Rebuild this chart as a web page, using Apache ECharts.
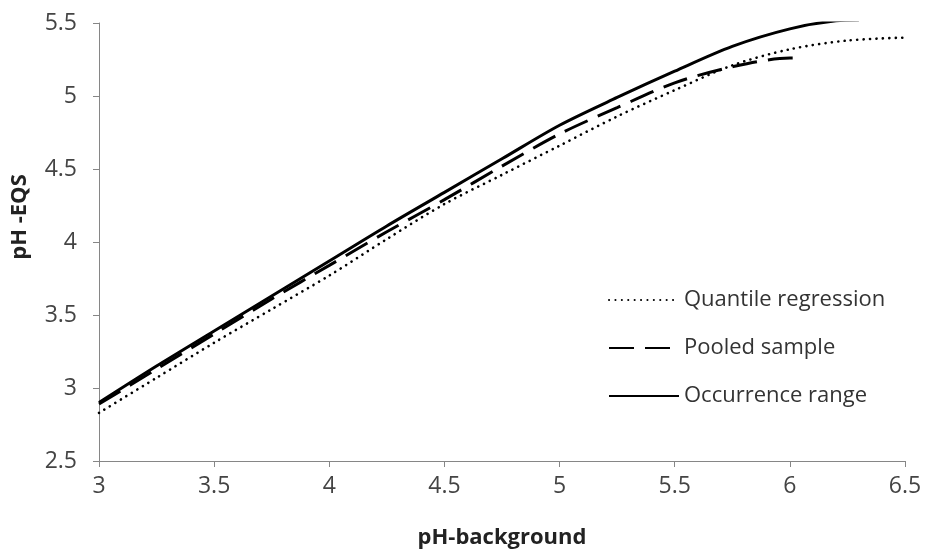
<!DOCTYPE html>
<html>
<head>
    <meta charset="utf-8">
    <style>
        body { margin: 0; background: #fff; }
        #chart { width: 928px; height: 549px; }
    </style>
    <script src="https://cdn.jsdelivr.net/npm/echarts@6/dist/echarts.min.js"></script>
</head>
<body>
    <div id="chart"></div>
    <script type="text/javascript">
        // values (pH-background, pH -EQS)
        var quantileX = [3.0, 3.25, 3.5, 3.75, 4.0, 4.25, 4.5, 4.75, 5.0, 5.25, 5.5, 5.75, 6.0, 6.25, 6.5];
        var quantileY = [2.83, 3.07, 3.31, 3.54, 3.77, 4.02, 4.26, 4.46, 4.66, 4.86, 5.04, 5.21, 5.32, 5.38, 5.40];

        var pooledX = [3.0, 3.25, 3.5, 3.75, 4.0, 4.25, 4.5, 4.75, 5.0, 5.25, 5.5, 5.75, 6.0, 6.05];
        var pooledY = [2.89, 3.13, 3.37, 3.61, 3.84, 4.07, 4.29, 4.52, 4.74, 4.92, 5.09, 5.20, 5.26, 5.26];

        var occurrenceX = [3.0, 3.25, 3.5, 3.75, 4.0, 4.25, 4.5, 4.75, 5.0, 5.25, 5.5, 5.75, 6.0, 6.2, 6.3];
        var occurrenceY = [2.90, 3.15, 3.39, 3.63, 3.87, 4.11, 4.34, 4.57, 4.80, 4.99, 5.17, 5.34, 5.46, 5.515, 5.52];

        var xTicks = [3, 3.5, 4, 4.5, 5, 5.5, 6, 6.5];
        var yTicks = [2.5, 3, 3.5, 4, 4.5, 5, 5.5];

        function pairs(xs, ys) {
            return xs.map(function (x, i) { return [x, ys[i]]; });
        }

        var font = "'Open Sans', 'Liberation Sans', sans-serif";
        var myChart = echarts.init(document.getElementById('chart'));
        myChart.setOption({
            animation: false,
            backgroundColor: '#ffffff',
            grid: { left: 99, right: 23, top: 23, bottom: 88, containLabel: false, outerBoundsMode: 'none' },
            legend: {
                orient: 'vertical',
                left: 603,
                top: 284,
                itemWidth: 70,
                itemHeight: 12,
                itemGap: 26,
                itemStyle: { opacity: 0 },
                textStyle: { fontFamily: font, fontSize: 22, color: '#333' },
                data: ['Quantile regression', 'Pooled sample', 'Occurrence range']
            },
            xAxis: {
                type: 'value',
                min: xTicks[0],
                max: xTicks[xTicks.length - 1],
                interval: 0.5,
                name: 'pH-background',
                nameLocation: 'middle',
                nameGap: 66,
                nameTextStyle: { fontFamily: font, fontSize: 22, fontWeight: 'bold', color: '#222' },
                axisLine: { lineStyle: { color: '#868686', width: 1 } },
                axisTick: { show: true, length: 6, lineStyle: { color: '#868686' } },
                axisLabel: { fontFamily: font, fontSize: 23, color: '#444', margin: 14 },
                splitLine: { show: false }
            },
            yAxis: {
                type: 'value',
                min: yTicks[0],
                max: yTicks[yTicks.length - 1],
                interval: 0.5,
                name: 'pH -EQS',
                nameLocation: 'middle',
                nameGap: 68,
                nameTextStyle: { fontFamily: font, fontSize: 22, fontWeight: 'bold', color: '#222', padding: [0, 0, 0, 50] },
                axisLine: { show: true, lineStyle: { color: '#868686', width: 1 } },
                axisTick: { show: true, length: 6, lineStyle: { color: '#868686' } },
                axisLabel: { fontFamily: font, fontSize: 23, color: '#444', margin: 22 },
                splitLine: { show: false }
            },
            series: [
                {
                    name: 'Quantile regression',
                    type: 'line',
                    data: pairs(quantileX, quantileY),
                    smooth: 0.3,
                    symbol: 'none',
                    lineStyle: { color: '#000', width: 2.6, type: [0.1, 6.3], cap: 'round' },
                    itemStyle: { color: '#000' }
                },
                {
                    name: 'Pooled sample',
                    type: 'line',
                    data: pairs(pooledX, pooledY),
                    smooth: 0.3,
                    symbol: 'none',
                    lineStyle: { color: '#000', width: 3, type: [25, 11] },
                    itemStyle: { color: '#000' }
                },
                {
                    name: 'Occurrence range',
                    type: 'line',
                    data: pairs(occurrenceX, occurrenceY),
                    smooth: 0.3,
                    symbol: 'none',
                    lineStyle: { color: '#000', width: 3 },
                    itemStyle: { color: '#000' }
                }
            ]
        });
    </script>
</body>
</html>
